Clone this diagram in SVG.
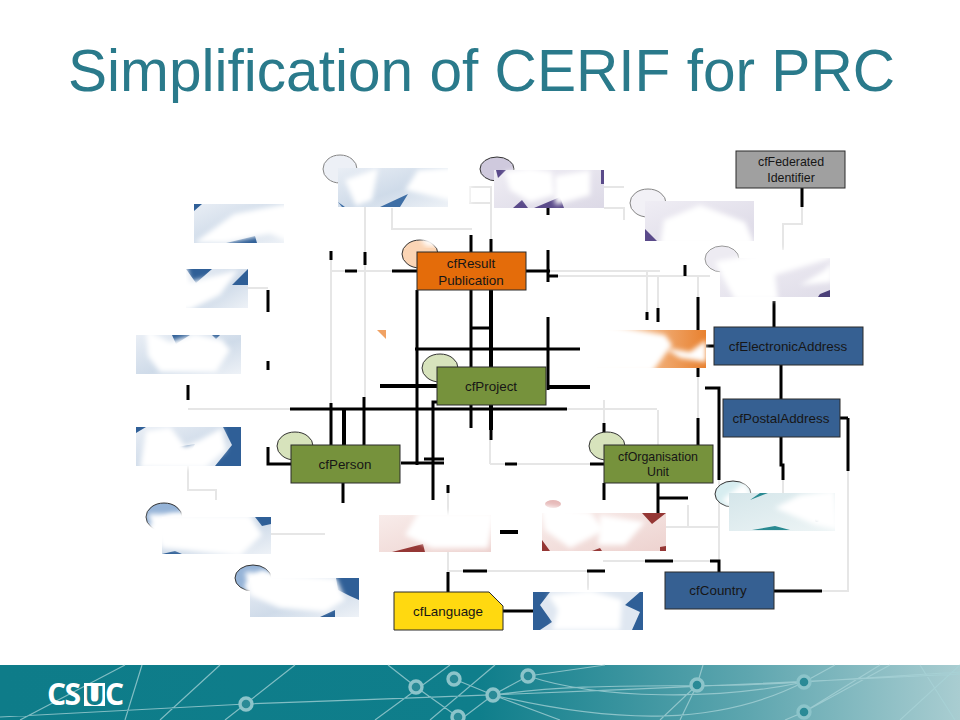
<svg xmlns="http://www.w3.org/2000/svg" width="960" height="720" viewBox="0 0 960 720">
<style>
text{font-family:"Liberation Sans",Arial,sans-serif}
.t{font-size:13.4px;fill:#161616;text-anchor:middle}
.n{stroke:#2a2a2a;stroke-width:1}
.e{stroke:#333;stroke-width:1}
.k{fill:none;stroke:#000;stroke-width:3}
.h{fill:none;stroke:#000;stroke-width:4}
.g{fill:none;stroke:#e6e6e6;stroke-width:2}
.w{fill:#fff;filter:url(#b)}
.f{fill:none;stroke:#a8d3d7;stroke-width:1.2;opacity:.75}
.c{stroke:#8cc4ca;stroke-width:3.4}
</style>
<defs>
<filter id="b" x="-20%" y="-20%" width="140%" height="140%"><feGaussianBlur stdDeviation="2.4"/></filter>
<linearGradient id="foot" x1="0" x2="1" y1="0" y2="0"><stop offset="0" stop-color="#0e7c89"/><stop offset=".5" stop-color="#0f7e8b"/><stop offset=".78" stop-color="#5ea6af"/><stop offset="1" stop-color="#a9cdd1"/></linearGradient>
<linearGradient id="blu" x1="0" x2="1" y1="0" y2="1"><stop offset="0" stop-color="#e9eef5"/><stop offset=".55" stop-color="#cfdbe9"/><stop offset="1" stop-color="#eef2f7"/></linearGradient>
<linearGradient id="pur" x1="0" x2="1" y1="0" y2="1"><stop offset="0" stop-color="#efedf4"/><stop offset="1" stop-color="#dcd9e6"/></linearGradient>
<linearGradient id="red" x1="0" x2="1" y1="0" y2="1"><stop offset="0" stop-color="#f8ecea"/><stop offset="1" stop-color="#edd2cf"/></linearGradient>
<linearGradient id="ora" x1="0" x2="1" y1="0" y2="0"><stop offset="0" stop-color="#fbe3cd"/><stop offset="1" stop-color="#e8812f"/></linearGradient>
<linearGradient id="tea" x1="0" x2="1" y1="0" y2="1"><stop offset="0" stop-color="#d5e6ea"/><stop offset="1" stop-color="#eef5f6"/></linearGradient>
</defs>
<rect width="960" height="720" fill="#fff"/>
<text x="68" y="91" font-size="58.6" fill="#2a7a8b">Simplification of CERIF for PRC</text>

<g id="connectors">
<path class="g" d="M331 271H392M365 207V252M365 265V397M331 260V403M248 288H268M188 409H290M392 208V229H472M491 190V239M470 187H491V203H470Z"/>
<path class="g" d="M188 465V490H216V500M271 534H325M448 493V571H463M487 571H587M588 571V590M603 561H645M673 561H710M719 480V560M688 505V527H666M666 527H719M490 464H590M490 440V464M848 471V591H822M783 480V493M802 207V224H783V250M604 208H624V220M604 187H624M558 276H710M550 271H660M647 271V312M658 276V308M698 276V297M604 400V423M567 409H657M658 410V445M698 377V418"/>
<path class="k" d="M471 235V367M491 239V252M491 290V367M472 328H491M417 290V465M415 349H580M392 271H417M345 271H357M365 252V265M331 251V260M268 290V312M268 361V370"/>
<path class="h" d="M380 386H437M344 410V445M491 290V367M491 405V430"/>
<path class="k" d="M188 385V400M290 409H567M331 403V445M364 397V445M268 447V464H291M401 463H444M424 459H444M433 500V402H437M471 405V428M491 430V440M343 483V503M448 572V592M448 485V493M463 571H487M503 611H533M587 571H605M645 561H673M710 561H719V572M590 464H604M505 464H517M658 483V513M658 498H688M604 483V500M604 423V445M698 418V445M698 297V330M698 368V377M848 418V471M848 418H840M774 591H822M781 437V465H783V480M781 365V399M774 301V327M706 346H714M802 188V207M548 208V215M548 250V282M548 317V390M526 271H550M548 276H558M647 312V320M658 308V322M685 265V276M705 388H719V480"/>
<path class="h" d="M500 532H518M548 387H590"/>
</g>

<g id="n-group-a"><rect x="194" y="204" width="90" height="39" fill="url(#blu)"/><path d="M194 204H202L194 211ZM226 243L255 236L257 243Z" fill="#2f5f97"/><polygon class="w" points="194,243 234,214 284,204 310,204 310,250 270,234 258,236 226,243"/></g>
<g id="n-group-b"><rect x="186" y="269" width="62" height="39" fill="url(#blu)"/><path d="M186 269H212L196 283ZM248 269V285L232 285Z" fill="#2f5f97"/><polygon class="w" points="140,262 186,262 190,282 238,270 220,295 190,310 140,310"/></g>
<g id="n-group-c"><rect x="136" y="335" width="105" height="39" fill="url(#blu)"/><path d="M172 335H190L176 344ZM212 335H220L216 339Z" fill="#2f5f97"/><polygon class="w" points="146,330 170,342 195,334 222,340 230,350 216,372 160,372 148,356"/></g>
<g id="n-group-d"><rect x="136" y="427" width="105" height="39" fill="url(#blu)"/><path d="M136 427H146L136 433ZM223 427H241V466H215L232 445ZM171 448L195 444L188 458L173 454Z" fill="#2f5f97"/><polygon class="w" points="146,431 170,427 185,446 200,440 222,428 226,450 205,468 140,468"/></g>
<g id="n-group-e"><ellipse class="e" cx="164" cy="517" rx="18" ry="14" fill="#95b3d7"/><polygon class="w" points="148,526 170,514 190,512 190,560 162,560"/><rect x="162" y="517" width="109" height="37" fill="url(#blu)"/><path d="M255 517H271V524L262 526ZM162 554L175 551L182 554Z" fill="#2f5f97"/><polygon class="w" points="148,514 250,515 262,535 240,556 200,552 162,548"/></g>
<g id="n-group-f"><ellipse class="e" cx="253" cy="578" rx="18" ry="13" fill="#95b3d7"/><polygon class="w" points="244,586 262,570 280,580 256,600"/><rect x="250" y="578" width="109" height="39" fill="url(#blu)"/><path d="M336 578H359V600L350 596L338 590ZM320 617L335 610V617Z" fill="#2f5f97"/><polygon class="w" points="245,572 336,578 345,600 325,612 280,608 250,595"/></g>
<g id="n-group-g"><ellipse class="e" cx="340" cy="169" rx="17" ry="14" fill="#e2e7f1" opacity=".6"/><rect x="338" y="168" width="110" height="39" fill="url(#blu)"/><path d="M338 202L342 207H380L408 194L400 207H345Z" fill="#3f6fa6"/><polygon class="w" points="345,180 378,168 372,200 356,206"/><polygon class="w" points="418,170 470,165 470,205 405,190"/></g>
<g id="n-group-h"><ellipse class="e" cx="497" cy="169" rx="17" ry="12" fill="#cfc9dd"/><rect x="494" y="170" width="110" height="38" fill="url(#pur)"/><path d="M496 170H506L498 178ZM513 208L522 200L528 208ZM534 208L560 197L564 208ZM601 170H604V184H601Z" fill="#5a4a8a"/><polygon class="w" points="505,172 530,168 552,172 555,195 530,202 510,190"/><polygon class="w" points="555,176 590,170 590,195 555,205"/></g>
<g id="n-group-i"><ellipse class="e" cx="648" cy="203" rx="18" ry="14" fill="#ebe9f1" opacity=".6"/><rect x="645" y="201" width="109" height="40" fill="url(#pur)"/><path d="M645 229L657 241H645Z" fill="#5a4a8a"/><polygon class="w" points="664,220 700,205 745,222 755,245 660,245"/></g>
<g id="n-group-j"><ellipse class="e" cx="722" cy="259" rx="17" ry="13" fill="#dcd9e6" opacity=".5"/><rect x="720" y="258" width="110" height="39" fill="url(#pur)" opacity=".9"/><path d="M820 294L830 290V297H818Z" fill="#4a3f78"/><polygon class="w" points="715,262 775,250 832,250 832,258 775,275 778,300 735,300"/><polygon class="w" points="800,285 825,270 832,262 832,282"/></g>
<g id="n-group-k"><rect x="597" y="330" width="109" height="38" fill="url(#ora)"/><polygon class="w" points="590,322 665,335 672,345 652,372 590,372"/><polygon class="w" points="665,348 690,352 706,340 706,362 680,358"/></g>
<g id="n-group-l"><path d="M377 330H386V339Z" fill="#f0a264"/><rect x="379" y="515" width="112" height="37" fill="url(#red)"/><path d="M392 552L423 544L425 552Z" fill="#953735"/><polygon class="w" points="376,512 420,510 405,535 432,548 488,548 495,512"/></g>
<g id="n-group-m"><ellipse cx="553" cy="504" rx="8" ry="4" fill="#e6b9b8"/><rect x="542" y="513" width="124" height="38" fill="url(#red)"/><path d="M542 540L550 551H542ZM642 513H666L652 524ZM592 551L600 548L602 551ZM660 547L666 546V551H660Z" fill="#953735"/><polygon class="w" points="540,505 590,512 605,530 570,548 545,530"/><polygon class="w" points="600,515 645,522 625,545 598,545"/></g>
<g id="n-group-n"><rect x="533" y="592" width="110" height="38" fill="#dfe7f1"/><path d="M533 592H550L540 605L552 622L540 630H533ZM640 592H643V630H632L640 612L625 605Z" fill="#2f5f97"/><polygon class="w" points="548,595 590,590 622,600 620,630 552,630 558,610"/></g>
<g id="n-group-o"><ellipse class="e" cx="733" cy="494" rx="18" ry="13" fill="#d7edf0"/><polygon class="w" points="722,500 745,482 752,497 735,510"/><rect x="729" y="493" width="106" height="38" fill="url(#tea)"/><path d="M750 500L760 493H768ZM752 530H790L775 526Z" fill="#2a8a92"/><circle cx="817" cy="520" r="2" fill="#1a4a6a"/><polygon class="w" points="775,508 800,495 835,490 838,530 815,525"/></g>

<g id="n-result"><ellipse class="e" cx="420" cy="254" rx="18" ry="14" fill="#fbd5b5"/><polygon class="w" points="420,238 442,238 438,246 426,246"/><rect class="n" x="417" y="252" width="109" height="38" fill="#e46c0a"/><text class="t" x="471" y="268">cfResult</text><text class="t" x="471" y="285">Publication</text></g>
<g id="n-project"><ellipse class="e" cx="440" cy="368" rx="18" ry="14" fill="#d7e3bc"/><rect class="n" x="437" y="367" width="109" height="38" fill="#76923c"/><text class="t" x="491" y="391">cfProject</text></g>
<g id="n-person"><ellipse class="e" cx="295" cy="446" rx="18" ry="14" fill="#d7e3bc"/><rect class="n" x="291" y="445" width="109" height="38" fill="#76923c"/><text class="t" x="345" y="469">cfPerson</text></g>
<g id="n-org"><ellipse class="e" cx="607" cy="446" rx="18" ry="14" fill="#d7e3bc"/><rect class="n" x="604" y="445" width="109" height="38" fill="#76923c"/><text class="t" x="658" y="461" style="font-size:12.4px">cfOrganisation</text><text class="t" x="658" y="476" style="font-size:12.4px">Unit</text></g>
<g id="n-fed"><rect class="n" x="736" y="151" width="109" height="37" fill="#a0a0a0"/><text class="t" x="791" y="166" style="font-size:12.4px">cfFederated</text><text class="t" x="791" y="182" style="font-size:12.4px">Identifier</text></g>
<g id="n-electronic"><rect class="n" x="714" y="327" width="149" height="38" fill="#366092"/><text class="t" x="788" y="351">cfElectronicAddress</text></g>
<g id="n-postal"><rect class="n" x="723" y="399" width="117" height="38" fill="#366092"/><text class="t" x="781" y="423">cfPostalAddress</text></g>
<g id="n-country"><rect class="n" x="665" y="572" width="109" height="37" fill="#366092"/><text class="t" x="718" y="595">cfCountry</text></g>
<g id="n-language"><path class="n" d="M394 592H489L503 606V630H394Z" fill="#ffd910"/><text class="t" x="448" y="616">cfLanguage</text></g>

<g id="footer">
<rect y="665" width="960" height="55" fill="url(#foot)"/>
<path class="f" d="M0 717C100 712 180 708 246 704C420 698 640 690 960 674M20 720L125 665M125 720L142 665M160 720L220 665M225 720L295 665M388 665L416 687L458 717M375 720L450 665M430 720L495 665M460 720L493 695L528 676L605 665M454 679L493 695L560 720M528 676C600 700 720 700 804 682C860 678 900 676 960 672M493 695C600 680 690 690 804 682M493 695C620 725 720 725 804 682L835 665M660 720L697 685L703 665M680 720L697 685M804 712L880 665M785 720L804 712L890 665M900 720L960 665M920 665L955 720"/>
<g fill="#2a8a96"><circle class="c" cx="246" cy="704" r="6"/><circle class="c" cx="416" cy="687" r="6"/><circle class="c" cx="454" cy="679" r="6"/><circle class="c" cx="458" cy="717" r="6"/><circle class="c" cx="528" cy="676" r="6"/><circle class="c" cx="493" cy="695" r="6"/><circle class="c" cx="697" cy="685" r="6"/><circle class="c" cx="804" cy="682" r="6"/><circle class="c" cx="804" cy="712" r="6"/></g>
<text x="47" y="705" font-size="30" font-weight="700" fill="#fff" style="font-family:'Open Sans','Liberation Sans',sans-serif" letter-spacing="-1.5">CS</text>
<rect x="84" y="683" width="21" height="23" fill="#fff"/>
<text x="94.500" y="705" font-size="26" font-weight="700" fill="#0e7c89" text-anchor="middle" style="font-family:'Open Sans','Liberation Sans',sans-serif">U</text>
<text x="105" y="705" font-size="30" font-weight="700" fill="#fff" style="font-family:'Open Sans','Liberation Sans',sans-serif">C</text>
</g>
</svg>
